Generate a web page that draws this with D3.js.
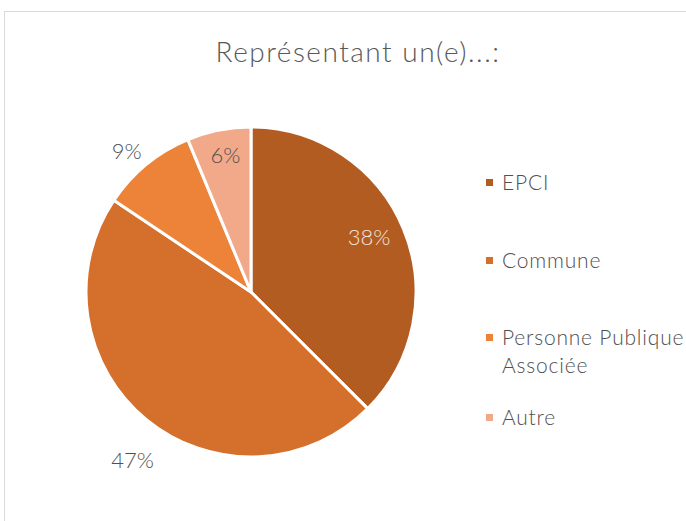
<!DOCTYPE html>
<html>
<head>
<meta charset="utf-8">
<script src="https://cdn.jsdelivr.net/npm/d3@7"></script>
<style>
  body { margin: 0; background: #fff; }
  text { font-family: Lato, "Open Sans", sans-serif; font-weight: 300; }
</style>
</head>
<body>
<div id="chart"></div>
<script>
// Répartition des participants
const categories = ['EPCI', 'Commune', 'Personne Publique Associée', 'Autre'];
const counts = [12, 15, 3, 2];
const legendLines = [['EPCI'], ['Commune'], ['Personne Publique', 'Associée'], ['Autre']];
const title = 'Représentant un(e)...:';

const colors = ['#b25c22', '#d4702c', '#ed8339', '#f2a98a'];
const labelColors = ['#f3e3d7', '#505050', '#505050', '#505050'];
// label placement: fraction of the radius and angle shift (degrees) from the slice middle
const labelRadius = [0.79, 1.25, 1.14, 0.84];
const labelShift = [-2.5, -4.3, -2, 0.6];

const width = 686, height = 521;
const cx = 251, cy = 292, radius = 165;

let svg = d3.select('#chart')
  .append('svg')
    .attr('width', width)
    .attr('height', height);

// chart frame
svg.append('rect')
  .attr('x', 4.5).attr('y', 11.5)
  .attr('width', 720).attr('height', 560)
  .attr('fill', 'none')
  .attr('stroke', '#d9d9d9');

svg.append('text')
  .attr('x', 358).attr('y', 62)
  .attr('text-anchor', 'middle')
  .attr('font-size', 28)
  .attr('letter-spacing', 1.5)
  .attr('fill', '#595959')
  .text(title);

let total = d3.sum(counts);
let pie = d3.pie().sort(null).value((d) => d)(counts);
let arc = d3.arc().innerRadius(0).outerRadius(radius);

let g = svg.append('g').attr('transform', 'translate(' + cx + ',' + cy + ')');

g.selectAll('path')
  .data(pie)
  .enter().append('path')
    .attr('d', arc)
    .attr('fill', (d, i) => colors[i])
    .attr('stroke', '#fff')
    .attr('stroke-width', 3)
    .attr('stroke-linejoin', 'round');

g.selectAll('text.lbl')
  .data(pie)
  .enter().append('text')
    .attr('class', 'lbl')
    .attr('transform', (d, i) => {
      let a = (d.startAngle + d.endAngle) / 2 + labelShift[i] * Math.PI / 180;
      let r = radius * labelRadius[i];
      return 'translate(' + (Math.sin(a) * r) + ',' + (-Math.cos(a) * r) + ')';
    })
    .attr('text-anchor', 'middle')
    .attr('dy', '0.35em')
    .attr('font-size', 22)
    .attr('fill', (d, i) => labelColors[i])
    .text((d) => Math.round(d.data / total * 100) + '%');

// legend
let legendY = [190, 268, 345, 425];
let legend = svg.append('g').selectAll('g')
  .data(categories)
  .enter().append('g')
    .attr('transform', (d, i) => 'translate(486,' + legendY[i] + ')');

legend.append('rect')
  .attr('x', 0).attr('y', -11)
  .attr('width', 7).attr('height', 7)
  .attr('fill', (d, i) => colors[i]);

legend.each(function(d, i) {
  let t = d3.select(this).append('text')
    .attr('font-size', 21)
    .attr('letter-spacing', 0.8)
    .attr('fill', '#505050');
  legendLines[i].forEach((line, j) => {
    t.append('tspan').attr('x', 16).attr('y', j * 28).text(line);
  });
});
</script>
</body>
</html>
